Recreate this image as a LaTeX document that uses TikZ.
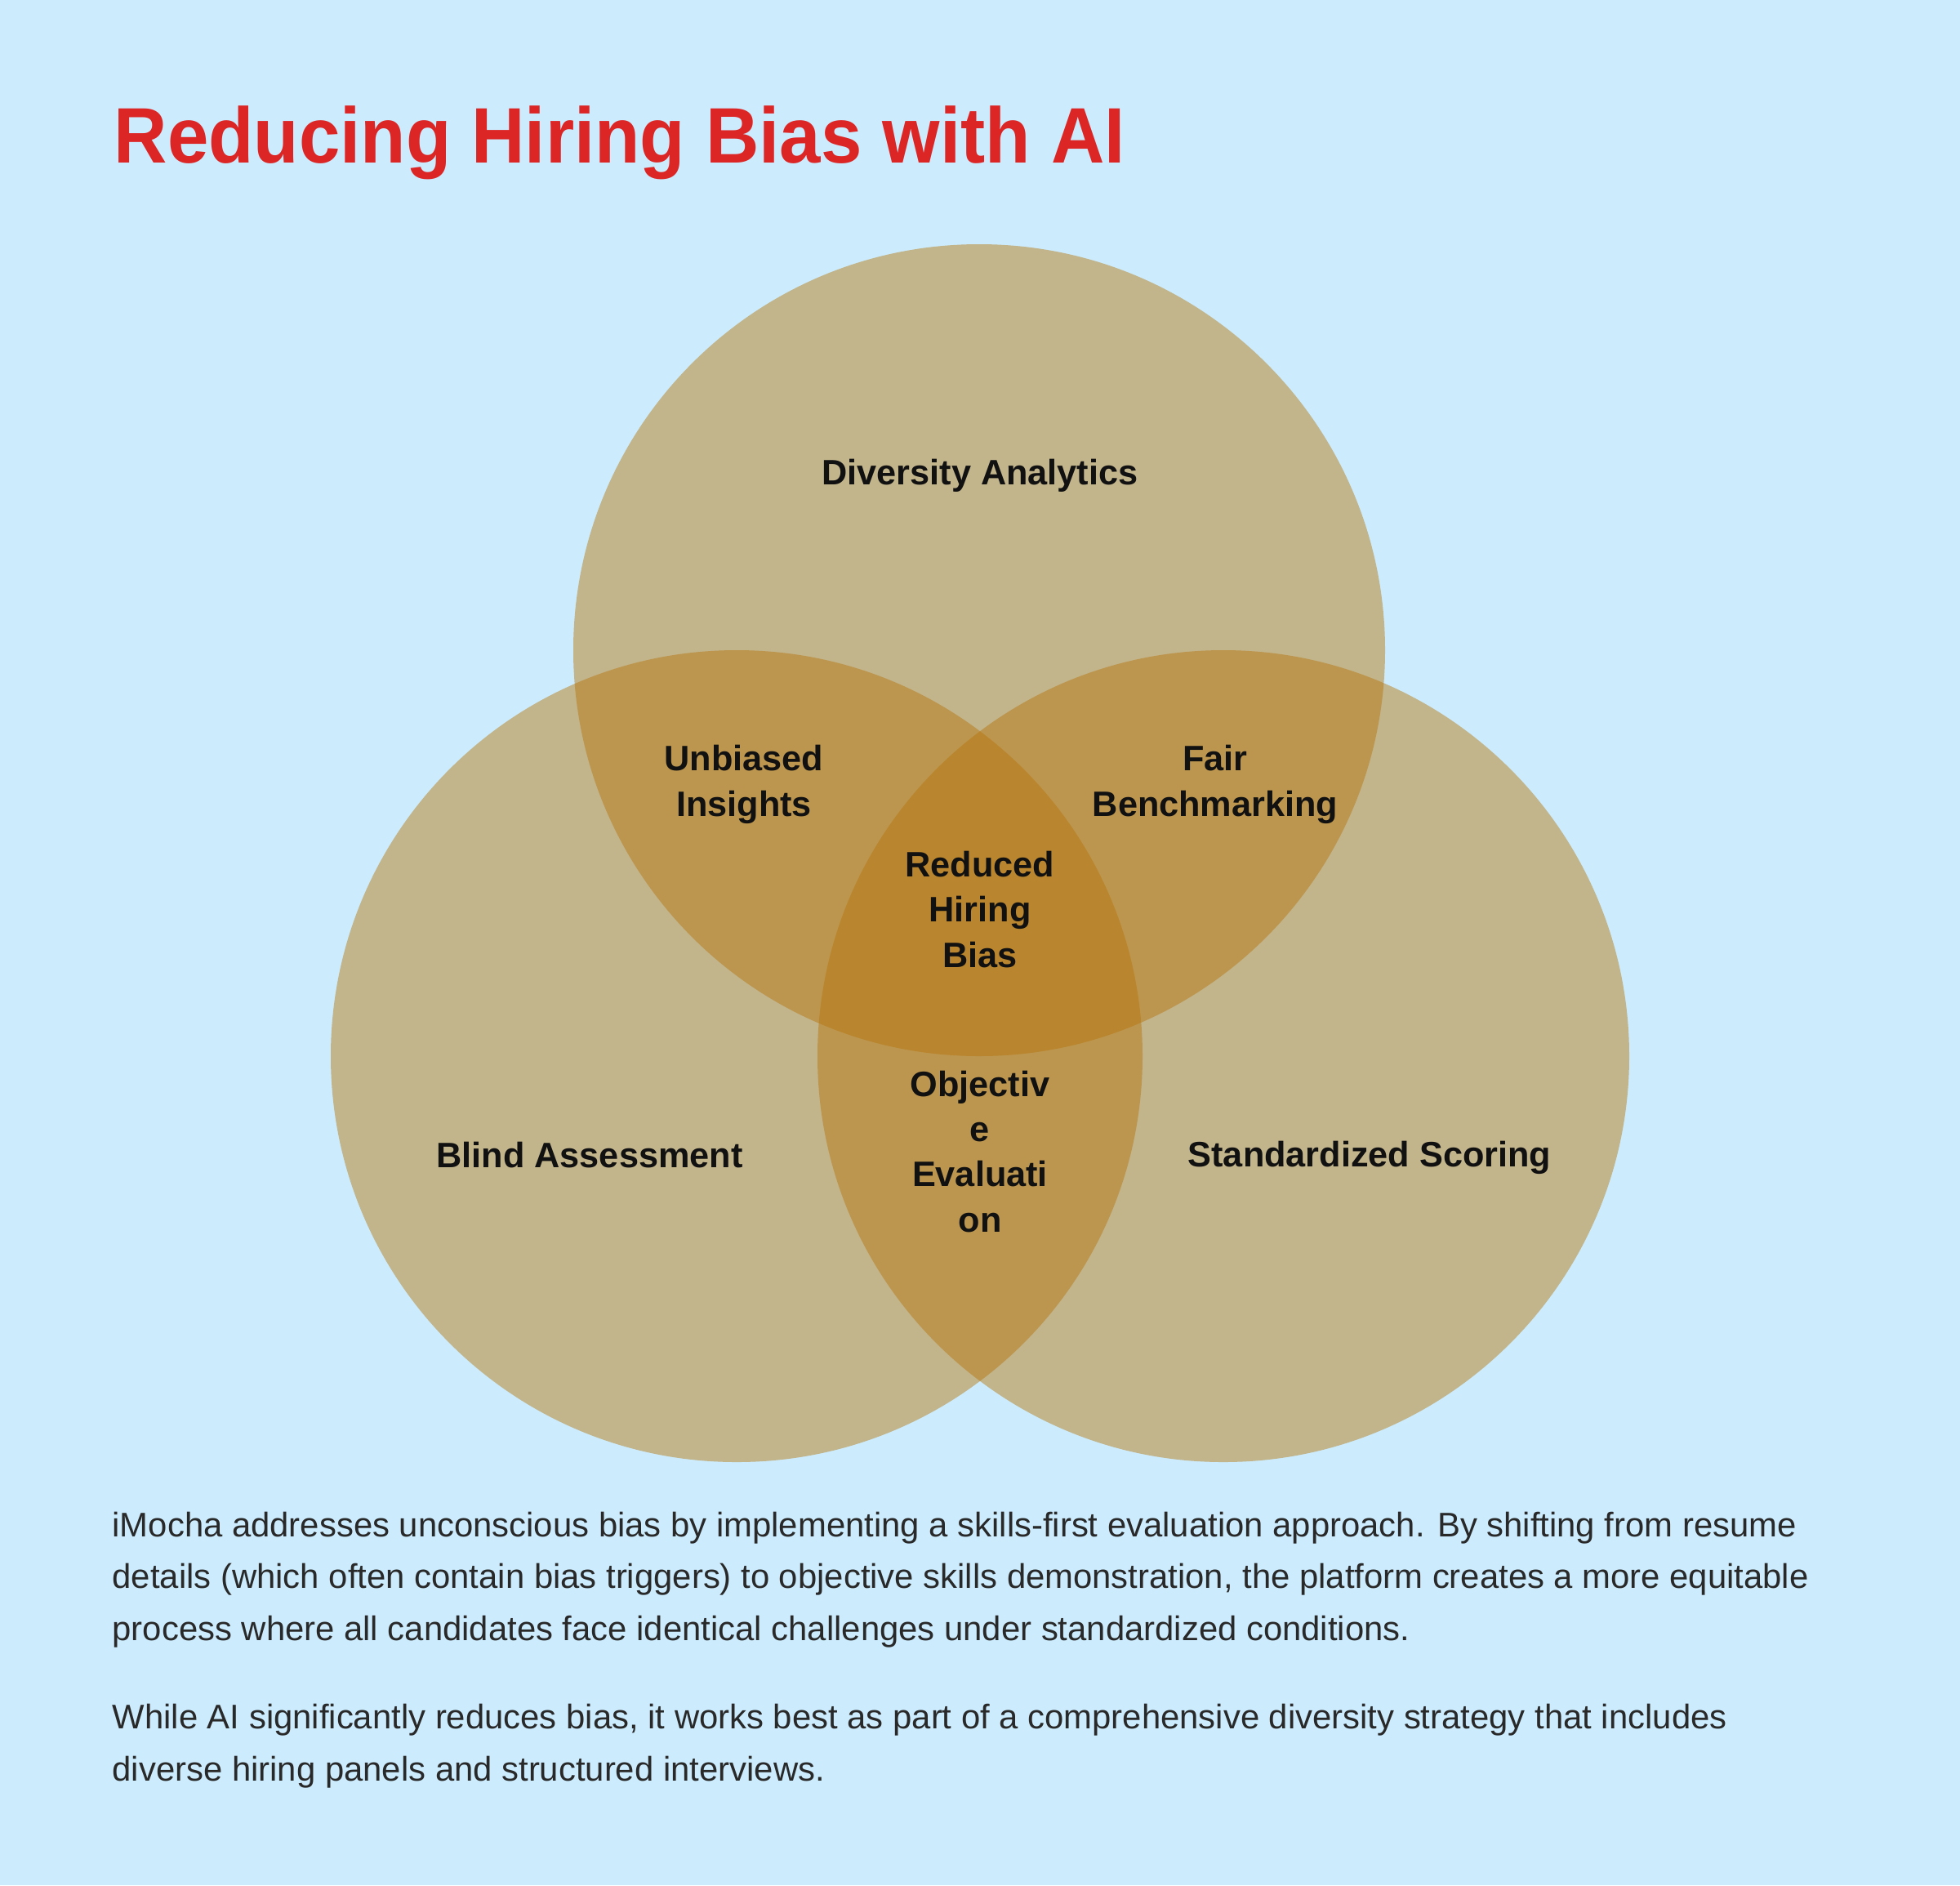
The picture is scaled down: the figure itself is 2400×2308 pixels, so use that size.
\documentclass[tikz,border=0pt]{standalone}
\usepackage{fontspec}
\setmainfont{Liberation Sans}
\definecolor{bgblue}{RGB}{204,236,254}
\definecolor{titlered}{RGB}{220,38,38}
\definecolor{gold}{RGB}{183,118,13}
\definecolor{inkdark}{RGB}{17,17,17}
\begin{document}
\begin{tikzpicture}[x=0.01cm,y=-0.01cm]
  \tikzstyle{venn}=[fill=gold,fill opacity=0.474]
  \tikzstyle{setname}=[inner sep=0pt,align=center,text=inkdark,font=\fontsize{12.3}{15.65}\selectfont\bfseries,anchor=base]
  \tikzstyle{bodytext}=[inner sep=0pt,align=left,text=inkdark!90,font=\fontsize{11.9}{17.93}\selectfont,anchor=base west]
  \fill[bgblue] (0,0) rectangle (2400,2308);
  \useasboundingbox (0,0) rectangle (2400,2308);
  \node[inner sep=0pt,anchor=base west,text=titlered,font=\fontsize{27.4}{32}\selectfont\bfseries] (title) at (139,199) {\scalebox{0.94}[1]{Reducing Hiring Bias with AI}};
  \fill[venn] (1199,796) circle (497);
  \fill[venn] (902,1293) circle (497);
  \fill[venn] (1498,1293) circle (497);
  \node[setname] (diversity) at (1200,593) {Diversity Analytics};
  \node[setname] (blind) at (722,1429) {Blind Assessment};
  \node[setname] (scoring) at (1677,1428) {Standardized Scoring};
  \node[setname] (insights) at (911,999) {Unbiased\\Insights};
  \node[setname] (fair) at (1488,999) {Fair\\Benchmarking};
  \node[setname] (objective) at (1200,1508) {Objectiv\\e\\Evaluati\\on};
  \node[setname] (reduced) at (1200,1184) {Reduced\\Hiring\\Bias};
  \node[bodytext] (para1) at (137,2008) {iMocha addresses unconscious bias by implementing a skills-first evaluation approach. By shifting from resume\\details (which often contain bias triggers) to objective skills demonstration, the platform creates a more equitable\\process where all candidates face identical challenges under standardized conditions.};
  \node[bodytext] (para2) at (137,2180) {While AI significantly reduces bias, it works best as part of a comprehensive diversity strategy that includes\\diverse hiring panels and structured interviews.};
\end{tikzpicture}
\end{document}
